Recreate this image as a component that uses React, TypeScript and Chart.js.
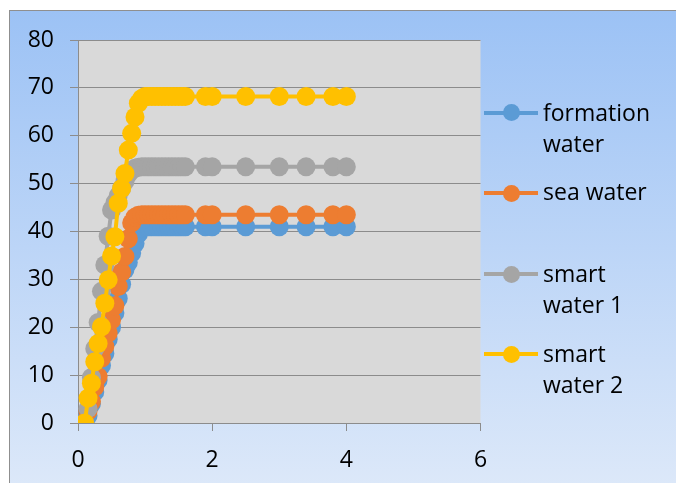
import React, { useEffect, useRef } from "react";
import { Chart, registerables } from "chart.js";

Chart.register(...registerables);

// x values (shared by all series)
const xValues = [
  0.1, 0.15, 0.2, 0.25, 0.3, 0.35, 0.4, 0.45, 0.5, 0.55, 0.6, 0.65, 0.7, 0.75, 0.8, 0.85, 0.9, 0.95,
  1.0, 1.05, 1.1, 1.15, 1.2, 1.25, 1.3, 1.35, 1.4, 1.45, 1.5, 1.55, 1.6,
  1.9, 2.0, 2.5, 3.0, 3.4, 3.8, 4.0,
];

const formationWater = [
  0, 1.5, 4, 6.5, 9, 12, 14.5, 17.5, 20, 23, 26, 29, 32, 33.5, 35.5, 37.5, 39.5, 40.6,
  41, 41, 41, 41, 41, 41, 41, 41, 41, 41, 41, 41, 41,
  41, 41, 41, 41, 41, 41, 41,
];

const seaWater = [
  0, 2.5, 4.5, 7.5, 9.7, 13.5, 16, 18.8, 21.5, 24.5, 28.5, 31.5, 34.8, 38.5, 41.8, 43, 43.4, 43.5,
  43.5, 43.5, 43.5, 43.5, 43.5, 43.5, 43.5, 43.5, 43.5, 43.5, 43.5, 43.5, 43.5,
  43.5, 43.5, 43.5, 43.5, 43.5, 43.5, 43.5,
];

const smartWater1 = [
  0, 3, 9.5, 15.5, 21, 27.5, 33, 39, 44.5, 46, 47.5, 49, 50.5, 52, 52.8, 53.2, 53.4, 53.5,
  53.5, 53.5, 53.5, 53.5, 53.5, 53.5, 53.5, 53.5, 53.5, 53.5, 53.5, 53.5, 53.5,
  53.5, 53.5, 53.5, 53.5, 53.5, 53.5, 53.5,
];

const smartWater2 = [
  0, 5.2, 8.3, 12.8, 16.6, 20.1, 25, 29.9, 34.9, 38.9, 45.9, 49, 52.1, 57, 60.5, 63.9, 66.8, 67.8,
  68.2, 68.2, 68.2, 68.2, 68.2, 68.2, 68.2, 68.2, 68.2, 68.2, 68.2, 68.2, 68.2,
  68.2, 68.2, 68.2, 68.2, 68.2, 68.2, 68.2,
];

const seriesNames = ["formation water", "sea water", "smart water 1", "smart water 2"];
const legendLines = [["formation", "water"], ["sea water"], ["smart", "water 1"], ["smart", "water 2"]];
const seriesColors = ["#5B9BD5", "#ED7D31", "#A5A5A5", "#FFC000"];
const seriesValues = [formationWater, seaWater, smartWater1, smartWater2];

const xTicks = [0, 2, 4, 6];
const yMin = 0;
const yMax = 80;
const yStep = 10;

const FONT = "'Open Sans', sans-serif";

const plotBg = {
  id: "plotBg",
  beforeDraw(chart: any) {
    const { ctx, chartArea } = chart;
    ctx.save();
    ctx.fillStyle = "#D9D9D9";
    ctx.fillRect(chartArea.left, chartArea.top, chartArea.right - chartArea.left, chartArea.bottom - chartArea.top);
    ctx.restore();
  },
};

export default function App() {
  const ref = useRef<HTMLCanvasElement>(null);

  useEffect(() => {
    if (!ref.current) return;
    const datasets = seriesValues.map((vals, i) => ({
      label: seriesNames[i],
      data: vals.map((y, j) => ({ x: xValues[j], y })),
      borderColor: seriesColors[i],
      backgroundColor: seriesColors[i],
      pointBackgroundColor: seriesColors[i],
      pointBorderColor: seriesColors[i],
      pointRadius: 9.5,
      pointBorderWidth: 0,
      borderWidth: 4,
      showLine: true,
      tension: 0,
      order: 4 - i,
    }));
    const chart = new Chart(ref.current, {
      type: "scatter",
      data: { datasets },
      plugins: [plotBg],
      options: {
        animation: false,
        responsive: false,
        devicePixelRatio: 1,
        layout: { padding: { left: 0, top: 40, right: 195.5, bottom: 0 } },
        plugins: { legend: { display: false }, tooltip: { enabled: false } },
        scales: {
          x: {
            type: "linear",
            min: 0,
            max: 6,
            afterFit: (s: any) => {
              s.height = 60;
            },
            afterBuildTicks: (s: any) => {
              s.ticks = xTicks.map((v) => ({ value: v }));
            },
            ticks: {
              font: { family: FONT, size: 23 },
              color: "#000",
              padding: 16,
              maxRotation: 0,
            },
            grid: { drawOnChartArea: false, drawTicks: true, tickLength: 8, tickColor: "#8C8C8C" },
            border: { display: true, color: "#8C8C8C", width: 1 },
          },
          y: {
            type: "linear",
            min: yMin,
            max: yMax,
            afterFit: (s: any) => {
              s.width = 78;
            },
            ticks: {
              stepSize: yStep,
              font: { family: FONT, size: 23 },
              color: "#000",
              padding: 16,
            },
            grid: { color: "#8C8C8C", drawTicks: true, tickLength: 8, tickColor: "#8C8C8C" },
            border: { display: true, color: "#8C8C8C", width: 1 },
          },
        },
      },
    } as any);
    return () => chart.destroy();
  }, []);

  const markerY = [112.7, 193.3, 274, 354];
  const textTop = [97.3, 176.3, 258.3, 338.3];

  return (
    <div style={{ position: "fixed", left: 0, top: 0, width: 676, height: 483, overflow: "hidden", background: "#fff" }}>
      <div
        style={{
          position: "absolute",
          left: 9,
          top: 10,
          width: 700,
          height: 490,
          boxSizing: "border-box",
          border: "1px solid #8F8F8F",
          background: "linear-gradient(to bottom, #9CC2F5 0%, #DCE8F9 97%)",
        }}
      />
      <canvas ref={ref} width={676} height={483} style={{ position: "absolute", left: 0, top: 0, width: 676, height: 483 }} />
      {legendLines.map((lines, i) => (
        <React.Fragment key={i}>
          <div style={{ position: "absolute", left: 484, top: markerY[i] - 2, width: 54, height: 4, background: seriesColors[i] }} />
          <div
            style={{
              position: "absolute",
              left: 511 - 8.5,
              top: markerY[i] - 8.5,
              width: 17,
              height: 17,
              borderRadius: "50%",
              background: seriesColors[i],
            }}
          />
          <div
            style={{
              position: "absolute",
              left: 543,
              top: textTop[i],
              fontFamily: FONT,
              fontSize: 23,
              lineHeight: "31px",
              color: "#000",
              whiteSpace: "nowrap",
            }}
          >
            {lines.map((l, k) => (
              <div key={k}>{l}</div>
            ))}
          </div>
        </React.Fragment>
      ))}
    </div>
  );
}
